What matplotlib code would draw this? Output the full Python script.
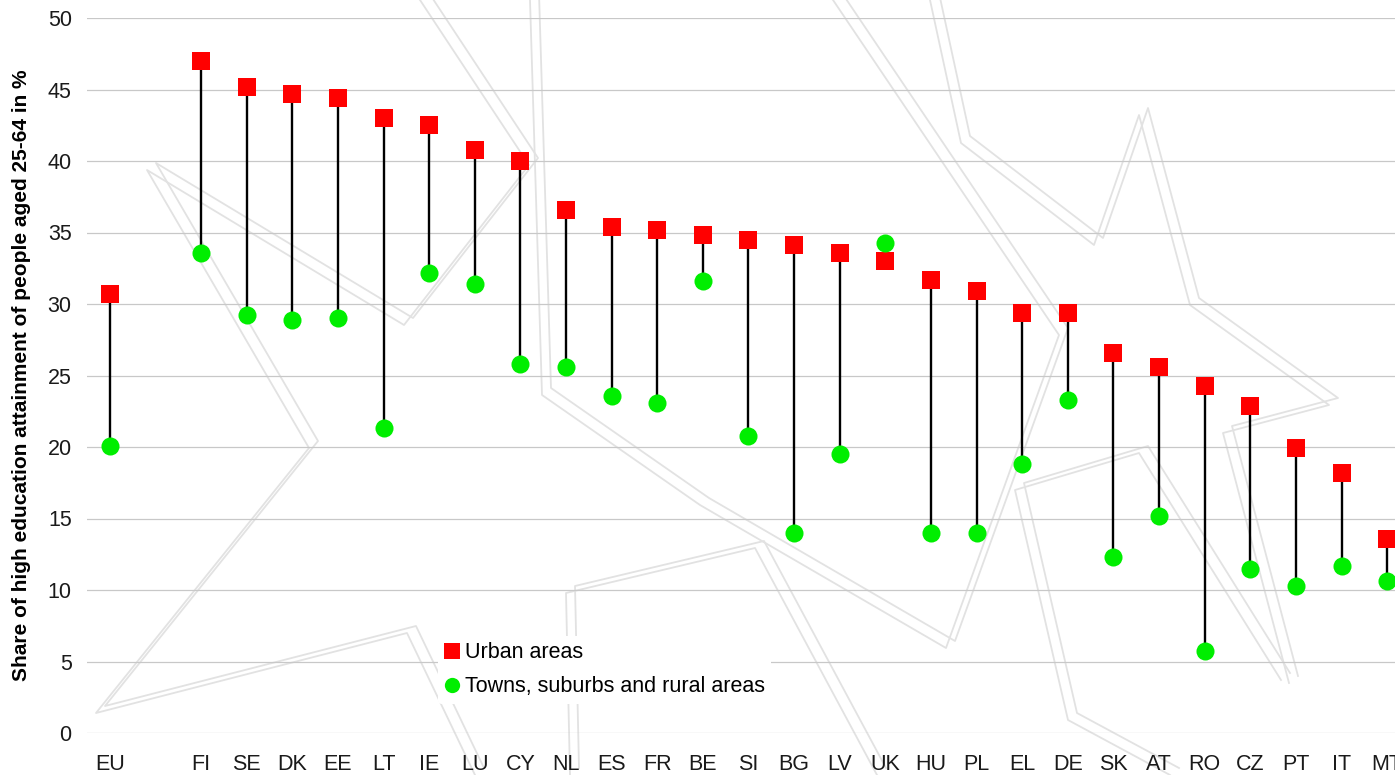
import numpy as np
import matplotlib
matplotlib.use("Agg")
import matplotlib.pyplot as plt
from matplotlib.lines import Line2D

plt.rcParams['font.family'] = ['Liberation Sans', 'DejaVu Sans']

categories = ["EU", "", "FI", "SE", "DK", "EE", "LT", "IE", "LU", "CY", "NL", "ES", "FR",
              "BE", "SI", "BG", "LV", "UK", "HU", "PL", "EL", "DE", "SK", "AT", "RO",
              "CZ", "PT", "IT", "MT"]
urban = [30.7, np.nan, 47.0, 45.2, 44.7, 44.4, 43.0, 42.5, 40.8, 40.0, 36.6, 35.4, 35.2,
         34.8, 34.5, 34.1, 33.6, 33.0, 31.7, 30.9, 29.4, 29.4, 26.6, 25.6, 24.3,
         22.9, 19.9, 18.2, 13.6]
rural = [20.1, np.nan, 33.6, 29.2, 28.9, 29.0, 21.3, 32.2, 31.4, 25.8, 25.6, 23.6, 23.1,
         31.6, 20.8, 14.0, 19.5, 34.3, 14.0, 14.0, 18.8, 23.3, 12.3, 15.2, 5.7,
         11.5, 10.3, 11.7, 10.6]
yticks = [0, 5, 10, 15, 20, 25, 30, 35, 40, 45, 50]
ylabel = "Share of high education attainment of people aged 25-64 in %"
legend_labels = ["Urban areas", "Towns, suburbs and rural areas"]

W, H = 1395, 775
fig = plt.figure(figsize=(W / 100, H / 100), dpi=100)

# background watermark (decorative star outlines), in pixel coords
bg = fig.add_axes([0, 0, 1, 1], zorder=0)
bg.set_xlim(0, W)
bg.set_ylim(H, 0)
bg.axis('off')
stars = [
    [(420, 0), (529, 165), (404, 325), (147, 170), (309, 448), (96, 713), (407, 633), (475, 775)],
    [(530, 0), (542, 395), (700, 505), (946, 648), (1059, 335), (833, 0)],
    [(930, 0), (961, 143), (1094, 245), (1139, 115), (1190, 305), (1329, 405), (1223, 433), (1289, 683)],
    [(570, 775), (566, 593), (755, 548), (877, 775)],
    [(1170, 775), (1068, 720), (1015, 490), (1139, 453), (1281, 680)],
]
for s in stars:
    xs, ys = zip(*s)
    bg.plot(xs, ys, color='#e2e2e2', lw=1.3)
    bg.plot([x + 9 for x in xs], [y - 7 for y in ys], color='#e2e2e2', lw=1.3)

left, right = 87, 1410
top, bottom = 18, 733
ax = fig.add_axes([left / W, (H - bottom) / H, (right - left) / W, (bottom - top) / H], zorder=1)
ax.patch.set_alpha(0)

x = np.arange(len(categories))
u = np.array(urban, dtype=float)
r = np.array(rural, dtype=float)

ax.vlines(x, r, u, colors='black', lw=1.7, zorder=3)
ax.plot(x, u, 's', color='#ff0000', ms=13, mew=0, zorder=4, clip_on=False)
ax.plot(x, r, 'o', color='#00ee00', ms=13, mew=0, zorder=5, clip_on=False)

ax.set_xlim(-0.5, len(categories) - 0.5)
ax.set_ylim(0, 50)
ax.set_yticks(yticks)
ax.set_xticks(x)
ax.set_xticklabels(categories)
ax.yaxis.grid(True, color='#c8c8c8', lw=0.9)
ax.set_axisbelow(True)
for sp in ax.spines.values():
    sp.set_visible(False)
ax.tick_params(axis='both', length=0, labelsize=15.5, colors='#1a1a1a')
ax.tick_params(axis='x', pad=15)
ax.tick_params(axis='y', pad=11)
ax.set_ylabel(ylabel, fontsize=15, fontweight='bold', labelpad=12)

handles = [Line2D([], [], marker='s', color='#ff0000', ls='none', ms=11, mew=0),
           Line2D([], [], marker='o', color='#00ee00', ls='none', ms=11, mew=0)]
leg = fig.legend(handles, legend_labels, loc='upper left',
                 bbox_to_anchor=(438 / W, (H - 636) / H), frameon=True, fontsize=15.5,
                 handlelength=0.7, handletextpad=0.25, labelspacing=0.6,
                 borderpad=0.3, borderaxespad=0)
leg.get_frame().set_facecolor('white')
leg.get_frame().set_edgecolor('none')
leg.get_frame().set_alpha(1)
leg.set_zorder(10)

fig.savefig("out.png", dpi=100)
